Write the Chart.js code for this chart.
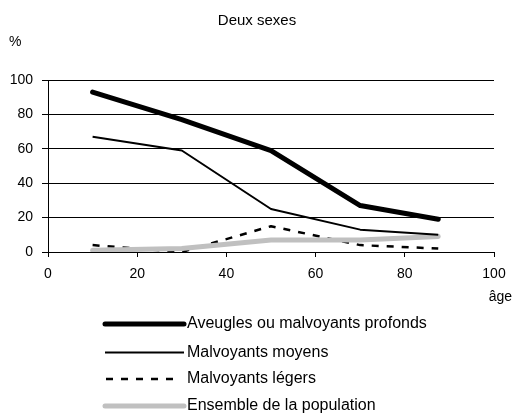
<!DOCTYPE html>
<html>
<head>
<meta charset="utf-8">
<script src="https://cdn.jsdelivr.net/npm/chart.js@4/dist/chart.umd.min.js"></script>
<style>
html,body{margin:0;padding:0;background:#fff;}
#wrap{position:relative;width:523px;height:414px;}
</style>
</head>
<body>
<div id="wrap"><canvas id="c" width="523" height="414"></canvas></div>
<script>
const title = "Deux sexes";
const yUnit = "%";
const xUnit = "âge";
const ages = [10, 30, 50, 70, 87.5];
const seriesNames = ["Aveugles ou malvoyants profonds", "Malvoyants moyens", "Malvoyants légers", "Ensemble de la population"];
const profonds = [93, 77, 59, 27, 19];
const moyens = [67, 59, 25, 13, 10];
const legers = [4, 0, 15, 4, 2];
const ensemble = [1, 2, 7, 7, 9];

const FONT = "'Liberation Sans', Arial, sans-serif";
const toXY = arr => arr.map((v, i) => ({x: ages[i], y: v}));

const styles = [
  {color: '#000', width: 5, dash: [], cap: 'round', order: 0},
  {color: '#000', width: 2, dash: [], cap: 'butt', order: 1},
  {color: '#000', width: 2.5, dash: [7, 8], cap: 'butt', order: 3},
  {color: '#c0c0c0', width: 5, dash: [], cap: 'round', order: 2}
];
const values = [profonds, moyens, legers, ensemble];

const extras = {
  id: 'extras',
  afterDraw(chart) {
    const ctx = chart.ctx;
    ctx.save();
    ctx.fillStyle = '#000';
    ctx.textBaseline = 'middle';
    ctx.font = '15px ' + FONT;
    ctx.textAlign = 'center';
    ctx.fillText(title, 257, 21);
    ctx.textAlign = 'left';
    ctx.font = '14px ' + FONT;
    ctx.fillText(yUnit, 9, 42);
    ctx.textAlign = 'right';
    ctx.fillText(xUnit, 512, 297);
    // legend
    const rows = [324, 352.5, 379, 406];
    ctx.font = '16px ' + FONT;
    ctx.textAlign = 'left';
    seriesNames.forEach((name, i) => {
      const s = styles[i];
      ctx.beginPath();
      ctx.strokeStyle = s.color;
      ctx.lineWidth = s.width;
      ctx.setLineDash(s.dash);
      ctx.lineCap = s.cap;
      const x0 = i === 2 ? 106 : 105;
      const x1 = i === 2 ? 176 : 184;
      ctx.moveTo(x0, rows[i]);
      ctx.lineTo(x1, rows[i]);
      ctx.stroke();
      ctx.setLineDash([]);
      ctx.fillStyle = '#000';
      ctx.fillText(name, 187, rows[i]);
    });
    ctx.restore();
  }
};

new Chart(document.getElementById('c'), {
  type: 'line',
  data: {
    datasets: values.map((v, i) => ({
      label: seriesNames[i],
      data: toXY(v),
      borderColor: styles[i].color,
      backgroundColor: styles[i].color,
      borderWidth: styles[i].width,
      borderDash: styles[i].dash,
      borderCapStyle: styles[i].cap,
      borderJoinStyle: 'round',
      pointRadius: 0,
      tension: 0,
      fill: false,
      order: styles[i].order
    }))
  },
  options: {
    responsive: false,
    animation: false,
    layout: {padding: {left: 0, right: 29, top: 80, bottom: 0}},
    plugins: {legend: {display: false}, title: {display: false}, tooltip: {enabled: false}},
    scales: {
      x: {
        type: 'linear', min: 0, max: 100,
        ticks: {stepSize: 20, color: '#000', font: {family: FONT, size: 14}, padding: 9, maxRotation: 0},
        grid: {display: true, drawOnChartArea: false, color: '#000', tickLength: 5, lineWidth: 1},
        border: {display: true, color: '#000', width: 1},
        afterFit(scale) { scale.height = 162; }
      },
      y: {
        min: 0, max: 100,
        ticks: {stepSize: 20, color: '#000', font: {family: FONT, size: 14}, padding: 9},
        grid: {display: true, color: '#000', tickLength: 6, lineWidth: 1},
        border: {display: true, color: '#000', width: 1},
        afterFit(scale) { scale.width = 48; }
      }
    }
  },
  plugins: [extras]
});
</script>
</body>
</html>
